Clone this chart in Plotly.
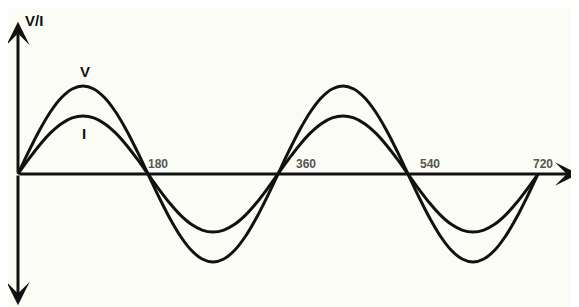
import plotly.graph_objects as go

# Angles in degrees (sampled every 15 degrees)
angles = [0, 15, 30, 45, 60, 75, 90, 105, 120, 135, 150, 165,
          180, 195, 210, 225, 240, 255, 270, 285, 300, 315, 330, 345,
          360, 375, 390, 405, 420, 435, 450, 465, 480, 495, 510, 525,
          540, 555, 570, 585, 600, 615, 630, 645, 660, 675, 690, 705, 720]

# Voltage V (peak 10)
v_values = [0, 2.59, 5.0, 7.07, 8.66, 9.66, 10.0, 9.66, 8.66, 7.07, 5.0, 2.59,
            0, -2.59, -5.0, -7.07, -8.66, -9.66, -10.0, -9.66, -8.66, -7.07, -5.0, -2.59,
            0, 2.59, 5.0, 7.07, 8.66, 9.66, 10.0, 9.66, 8.66, 7.07, 5.0, 2.59,
            0, -2.59, -5.0, -7.07, -8.66, -9.66, -10.0, -9.66, -8.66, -7.07, -5.0, -2.59, 0]

# Current I (peak 6.6)
i_values = [0, 1.71, 3.3, 4.67, 5.72, 6.38, 6.6, 6.38, 5.72, 4.67, 3.3, 1.71,
            0, -1.71, -3.3, -4.67, -5.72, -6.38, -6.6, -6.38, -5.72, -4.67, -3.3, -1.71,
            0, 1.71, 3.3, 4.67, 5.72, 6.38, 6.6, 6.38, 5.72, 4.67, 3.3, 1.71,
            0, -1.71, -3.3, -4.67, -5.72, -6.38, -6.6, -6.38, -5.72, -4.67, -3.3, -1.71, 0]

tick_labels = ["180", "360", "540", "720"]
tick_positions = [194, 399, 570, 727]

fig = go.Figure()
fig.add_trace(go.Scatter(x=angles, y=v_values, mode="lines",
                         line=dict(color="#111111", width=3, shape="spline"),
                         hoverinfo="skip", showlegend=False))
fig.add_trace(go.Scatter(x=angles, y=i_values, mode="lines",
                         line=dict(color="#111111", width=3, shape="spline"),
                         hoverinfo="skip", showlegend=False))

annotations = []
# Axes with arrows
arrow_style = dict(xref="x", yref="y", axref="x", ayref="y", showarrow=True,
                   arrowhead=3, arrowsize=1.3, arrowwidth=3, arrowcolor="#111111", text="")
annotations.append(dict(x=0, y=17.3, ax=0, ay=0, **arrow_style))
annotations.append(dict(x=0, y=-14.9, ax=0, ay=0, **arrow_style))
annotations.append(dict(x=776, y=0, ax=0, ay=0, **arrow_style))

font_main = dict(family="Liberation Sans, Arial", color="#111111")
annotations.append(dict(x=22, y=17.4, text="<b>V/I</b>", showarrow=False,
                        font=dict(size=15, **font_main), xanchor="center", yanchor="middle"))
annotations.append(dict(x=93, y=11.6, text="<b>V</b>", showarrow=False,
                        font=dict(size=15, **font_main), xanchor="center", yanchor="middle"))
annotations.append(dict(x=91, y=4.6, text="<b>I</b>", showarrow=False,
                        font=dict(size=15, **font_main), xanchor="center", yanchor="middle"))
for lab, pos in zip(tick_labels, tick_positions):
    annotations.append(dict(x=pos, y=1.1, text="<b>" + lab + "</b>", showarrow=False,
                            font=dict(size=12, family="Liberation Sans, Arial", color="#555555"),
                            xanchor="center", yanchor="middle"))
annotations.append(dict(x=776.5, y=-1.3, text="<b>t</b>", showarrow=False,
                        font=dict(size=12, **font_main), xanchor="right", yanchor="middle"))

# The page body adds an 8px offset; ranges compensate so the origin lands at (18, 174)
fig.update_layout(
    width=579, height=307,
    margin=dict(l=0, r=0, t=0, b=0),
    paper_bgcolor="#fcfcf7", plot_bgcolor="#fcfcf7",
    xaxis=dict(range=[-13.85, 787.9], visible=False, fixedrange=True),
    yaxis=dict(range=[-16.02, 18.86], visible=False, fixedrange=True),
    annotations=annotations,
    showlegend=False,
)

fig.write_html("out.html")
